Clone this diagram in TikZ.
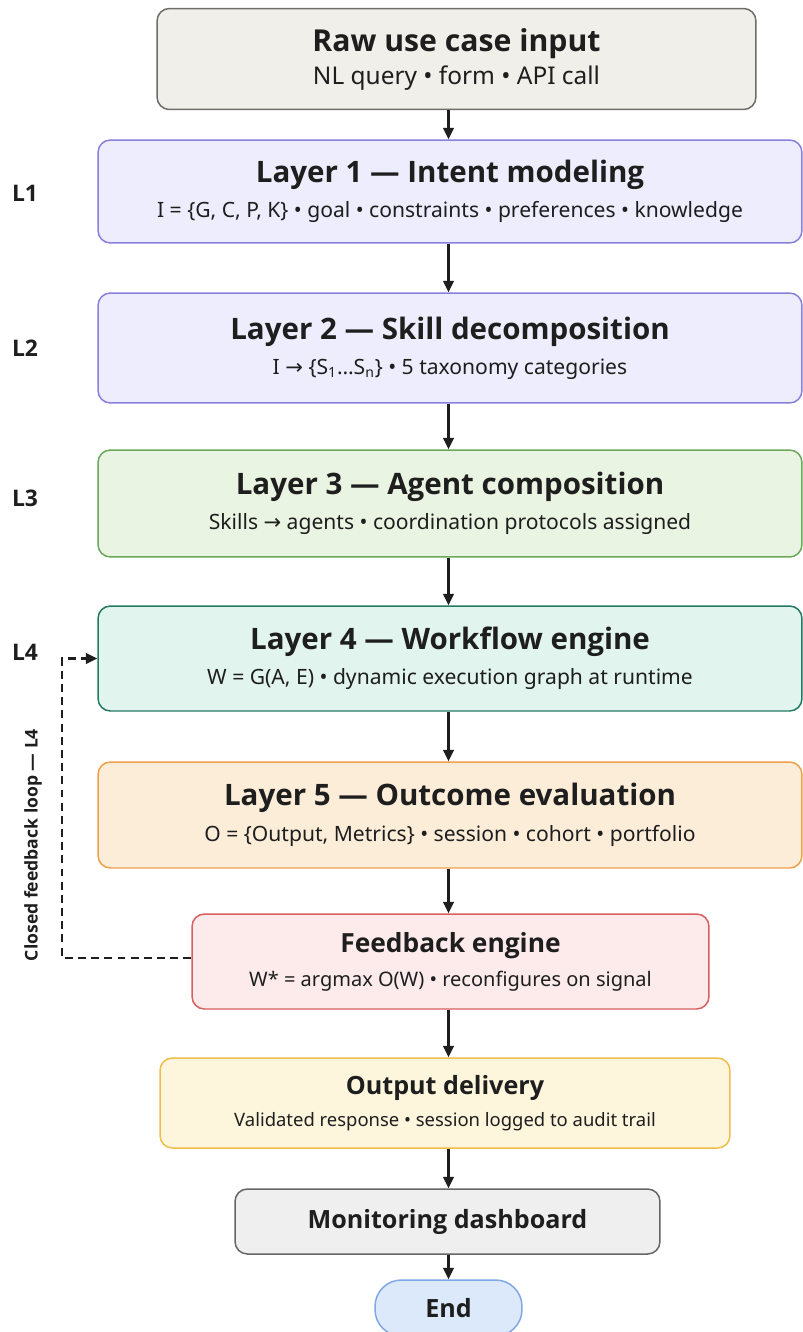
\documentclass[tikz,border=0pt]{standalone}
\usepackage{fontspec}
\setmainfont{Noto Sans}
\newfontfamily\titlefont{Open Sans}
\newfontfamily\symfont{DejaVu Sans}
\usetikzlibrary{arrows.meta,positioning}

\definecolor{rawfill}{HTML}{F1EFE9}
\definecolor{rawline}{HTML}{6E6D69}
\definecolor{lavfill}{HTML}{EEEDFD}
\definecolor{lavline}{HTML}{8880DC}
\definecolor{greenfill}{HTML}{EAF4E2}
\definecolor{greenline}{HTML}{68A95A}
\definecolor{tealfill}{HTML}{E1F4EE}
\definecolor{tealline}{HTML}{237A63}
\definecolor{orangefill}{HTML}{FCEDD9}
\definecolor{orangeline}{HTML}{EEA04A}
\definecolor{redfill}{HTML}{FDEBEB}
\definecolor{redline}{HTML}{D6605F}
\definecolor{yellowfill}{HTML}{FEF5DD}
\definecolor{yellowline}{HTML}{EFBD4C}
\definecolor{grayfill}{HTML}{EFEFEF}
\definecolor{grayline}{HTML}{666666}
\definecolor{bluefill}{HTML}{DCE9FB}
\definecolor{blueline}{HTML}{80A8E4}
\definecolor{ink}{HTML}{1E1E1E}

\newcommand{\ttl}[2][16.8]{{\titlefont\fontsize{#1}{20}\selectfont\bfseries #2}}
\newcommand{\subtxt}[2][12]{{\fontsize{#1}{15}\selectfont #2}}
\newcommand{\arr}{{\symfont\char"2192}}

\tikzset{
  stage/.style={draw, rounded corners=7pt, line width=0.85pt, align=center,
    text=ink, inner sep=0pt},
  flow/.style={-{Triangle[length=6.5pt,width=6pt]}, line width=1.2pt, ink},
  layertag/.style={text=ink, font=\titlefont\fontsize{13}{15}\selectfont\bfseries},
}

\begin{document}
\begin{tikzpicture}[x=0.02cm,y=-0.02cm]
\useasboundingbox[fill=white] (0,0) rectangle (803,1332);

% Input
\node[stage, fill=rawfill, draw=rawline, minimum width=11.98cm, minimum height=2.02cm]
  (raw) at (456.5,59) {\ttl[17.2]{Raw use case input}\\[3pt]\subtxt[13.9]{NL query • form • API call}};

% Layers
\node[stage, fill=lavfill, draw=lavline, minimum width=14.08cm, minimum height=2.06cm]
  (lone) at (450,191.5) {\ttl{Layer 1 — Intent modeling}\\[6pt]\subtxt{I = \{G, C, P, K\} • goal • constraints • preferences • knowledge}};
\node[stage, fill=lavfill, draw=lavline, minimum width=14.08cm, minimum height=2.2cm]
  (ltwo) at (450,348) {\ttl{Layer 2 — Skill decomposition}\\[6pt]\subtxt{I \arr\ \{S\textsubscript{1}…S\textsubscript{n}\} • 5 taxonomy categories}};
\node[stage, fill=greenfill, draw=greenline, minimum width=14.08cm, minimum height=2.14cm]
  (lthree) at (450,503.5) {\ttl{Layer 3 — Agent composition}\\[6pt]\subtxt{Skills \arr\ agents • coordination protocols assigned}};
\node[stage, fill=tealfill, draw=tealline, minimum width=14.08cm, minimum height=2.1cm]
  (lfour) at (450,658.5) {\ttl{Layer 4 — Workflow engine}\\[6pt]\subtxt{W = G(A, E) • dynamic execution graph at runtime}};
\node[stage, fill=orangefill, draw=orangeline, minimum width=14.08cm, minimum height=2.12cm]
  (lfive) at (450,815) {\ttl{Layer 5 — Outcome evaluation}\\[6pt]\subtxt{O = \{Output, Metrics\} • session • cohort • portfolio}};

% After the layers
\node[stage, fill=redfill, draw=redline, minimum width=10.34cm, minimum height=1.9cm]
  (feedback) at (450.5,961.5) {\ttl[15]{Feedback engine}\\[6pt]\subtxt[11.4]{W* = argmax O(W) • reconfigures on signal}};
\node[stage, fill=yellowfill, draw=yellowline, minimum width=11.4cm, minimum height=1.8cm]
  (output) at (445,1103) {\ttl[14.3]{Output delivery}\\[6pt]\subtxt[10.5]{Validated response • session logged to audit trail}};
\node[stage, fill=grayfill, draw=grayline, minimum width=8.5cm, minimum height=1.3cm]
  (monitor) at (447.5,1221.5) {\ttl[14.3]{Monitoring dashboard}};
\node[stage, fill=bluefill, draw=blueline, rounded corners=15pt, minimum width=2.94cm, minimum height=1.12cm]
  (end) at (448.5,1308) {\ttl[14.3]{End}};

% Layer tags
\foreach \n/\y in {1/193,2/348,3/498,4/652}
  \node[layertag] (tag\n) at (25,\y) {L\n};

% Main flow
\foreach \a/\b in {raw/lone,lone/ltwo,ltwo/lthree,lthree/lfour,lfour/lfive,lfive/feedback,feedback/output,output/monitor,monitor/end}
  \draw[flow] (\a.south -| end.north) -- (\b.north -| end.north);

% Feedback loop
\coordinate (loopcorner) at (62,958);
\draw[flow, dash pattern=on 4.5pt off 3pt] (feedback.west |- loopcorner) -- (loopcorner) |- (lfour.west);
\node[rotate=90, text=ink, font=\titlefont\fontsize{10}{12}\selectfont\bfseries] (looplabel) at (33,845) {Closed feedback loop — L4};
\end{tikzpicture}
\end{document}
